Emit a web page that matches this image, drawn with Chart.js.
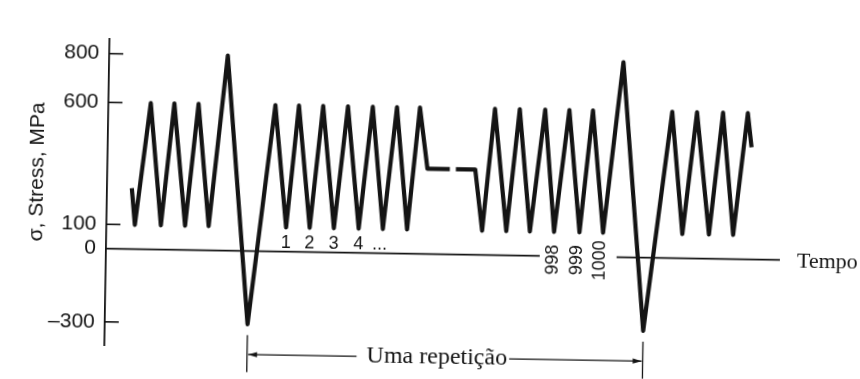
<!DOCTYPE html>
<html>
<head>
<meta charset="utf-8">
<script src="https://cdn.jsdelivr.net/npm/chart.js@4.4.1/dist/chart.umd.min.js"></script>
<style>
  html, body { margin: 0; padding: 0; background: #fff; overflow: hidden; }
  #wrap { width: 860px; height: 379px; position: relative; }
  canvas { position: absolute; left: 0; top: 0; transform: rotate(0.96deg); transform-origin: 106px 249px; }
</style>
</head>
<body>
<div id="wrap"><canvas id="c" width="860" height="379"></canvas></div>
<script>
// Stress history: turning points, time in arbitrary units, stress in MPa.
// A null stress breaks the trace (the omitted cycles of the block).
const times = [
  2.05, 2.35, 3.5, 4.5, 5.45, 6.5, 7.45, 8.45, 9.8, 11.8,
  13.8, 14.85, 15.75, 16.8, 17.75, 18.8, 19.8, 20.85, 21.85, 22.85, 23.85, 24.85, 25.75,
  26.45, 28.3, 28.55, 28.8, 30.4,
  31.05, 31.95, 33.05, 34.0, 35.0, 36.1, 37.0, 38.1, 39.1, 40.05, 41.05, 42.5, 44.5,
  46.6, 47.6, 48.65, 49.8, 50.8, 51.8, 52.85, 53.2
];
const stress = [
  250, 100, 600, 100, 600, 100, 600, 100, 800, -300,
  600, 100, 600, 100, 600, 100, 600, 100, 600, 100, 600, 100, 600,
  350, 350, null, 350, 350,
  100, 600, 100, 600, 100, 600, 100, 600, 100, 600, 100, 800, -300,
  600, 100, 600, 100, 600, 100, 600, 460
];
const stressTicks = [800, 600, 100, 0, -300];
const timeEnd = 55.7;

// Cycle counters written along the time axis
const cycleLabels = ['1', '2', '3', '4', '...'];
const cycleLabelTimes = [14.85, 16.8, 18.8, 20.85, 22.6];
const lastCycleLabels = ['998', '999', '1000'];
const lastCycleTimes = [36.95, 38.95, 40.85];
// The time axis is interrupted where the last counters sit
const axisGap = [35.85, 42.2];
// One repetition of the loading block, from one -300 MPa valley to the next
const repeatFrom = 11.8, repeatTo = 44.5;

const ink = '#141414';
const sans = '"Liberation Sans", Arial, Helvetica, sans-serif';
const serif = '"Liberation Serif", "Times New Roman", serif';

const historyPoints = times.map((t, i) => ({ x: t, y: stress[i] }));
const axisPoints = [
  { x: 0, y: 0 }, { x: axisGap[0], y: 0 },
  { x: (axisGap[0] + axisGap[1]) / 2, y: null },
  { x: axisGap[1], y: 0 }, { x: timeEnd, y: 0 }
];

const annotations = {
  id: 'annotations',
  afterDraw(chart) {
    const { ctx, chartArea, scales } = chart;
    const xs = scales.x, ys = scales.y;
    const y0 = ys.getPixelForValue(0);
    ctx.save();
    ctx.strokeStyle = ink;
    ctx.fillStyle = ink;

    // tick marks pointing into the plot
    ctx.lineWidth = 1.6;
    ys.ticks.forEach(tk => {
      if (tk.value === 0) return;
      const py = ys.getPixelForValue(tk.value);
      ctx.beginPath();
      ctx.moveTo(chartArea.left, py);
      ctx.lineTo(chartArea.left + 14, py);
      ctx.stroke();
    });

    // vertical axis title
    ctx.save();
    ctx.translate(36, 173);
    ctx.rotate(-Math.PI / 2);
    ctx.font = '21px ' + sans;
    ctx.textAlign = 'center';
    ctx.textBaseline = 'middle';
    ctx.fillText('\u03c3, Stress, MPa', 0, 0);
    ctx.restore();

    // cycle numbers 1, 2, 3, 4 ...
    ctx.font = '18px ' + sans;
    ctx.textAlign = 'center';
    ctx.textBaseline = 'alphabetic';
    cycleLabels.forEach((s, i) => {
      ctx.fillText(s, xs.getPixelForValue(cycleLabelTimes[i]), y0 - 4);
    });

    // cycle numbers 998, 999, 1000 (upright)
    lastCycleLabels.forEach((s, i) => {
      ctx.save();
      ctx.translate(xs.getPixelForValue(lastCycleTimes[i]), y0 + 3.5);
      ctx.rotate(-Math.PI / 2);
      ctx.font = '18px ' + sans;
      ctx.textAlign = 'center';
      ctx.textBaseline = 'middle';
      ctx.fillText(s, 0, 0);
      ctx.restore();
    });

    // time axis name
    ctx.font = '22px ' + serif;
    ctx.textAlign = 'left';
    ctx.textBaseline = 'alphabetic';
    ctx.fillText('Tempo', xs.getPixelForValue(timeEnd) + 17, y0 + 7);

    // dimension line for one repetition
    const xl = xs.getPixelForValue(repeatFrom);
    const xr = xs.getPixelForValue(repeatTo);
    const ya = y0 + 103.5;
    ctx.lineWidth = 1.3;
    [xl, xr].forEach(px => {
      ctx.beginPath();
      ctx.moveTo(px, y0 + 84);
      ctx.lineTo(px, y0 + 121);
      ctx.stroke();
    });
    ctx.font = '24px ' + serif;
    const label = 'Uma repeti\u00e7\u00e3o';
    const w = ctx.measureText(label).width;
    const cx = (xl + xr) / 2 - 8;
    ctx.textAlign = 'center';
    ctx.fillText(label, cx, y0 + 109);
    ctx.beginPath();
    ctx.moveTo(xl + 1, ya);
    ctx.lineTo(cx - w / 2 - 10, ya);
    ctx.moveTo(cx + w / 2 + 2, ya);
    ctx.lineTo(xr - 1, ya);
    ctx.stroke();
    ctx.beginPath();
    ctx.moveTo(xl + 1, ya);
    ctx.lineTo(xl + 10, ya - 2.6);
    ctx.lineTo(xl + 10, ya + 2.6);
    ctx.closePath();
    ctx.moveTo(xr - 1, ya);
    ctx.lineTo(xr - 10, ya - 2.6);
    ctx.lineTo(xr - 10, ya + 2.6);
    ctx.closePath();
    ctx.fill();

    ctx.restore();
  }
};

new Chart(document.getElementById('c'), {
  type: 'line',
  data: {
    datasets: [
      {
        data: axisPoints,
        borderColor: ink,
        borderWidth: 1.8,
        pointRadius: 0,
        spanGaps: false,
        clip: false
      },
      {
        data: historyPoints,
        borderColor: ink,
        borderWidth: 4.2,
        borderJoinStyle: 'round',
        borderCapStyle: 'butt',
        pointRadius: 0,
        tension: 0,
        spanGaps: false,
        clip: false
      }
    ]
  },
  options: {
    responsive: false,
    animation: false,
    devicePixelRatio: 1,
    layout: { padding: { left: 0, top: 39, right: 80, bottom: 34 } },
    plugins: { legend: { display: false }, tooltip: { enabled: false } },
    scales: {
      x: { type: 'linear', min: 0, max: timeEnd, display: false },
      y: {
        type: 'linear',
        min: -395,
        max: 860,
        afterBuildTicks(scale) { scale.ticks = stressTicks.map(v => ({ value: v })); },
        afterFit(scale) { scale.width = 106; },
        grid: { display: false, drawTicks: false },
        border: { display: true, color: ink, width: 1.8 },
        ticks: {
          padding: 10,
          color: ink,
          font: { family: sans, size: 21 },
          callback: v => (v < 0 ? '\u2013' + Math.abs(v) : String(v))
        },
        title: { display: false }
      }
    }
  },
  plugins: [annotations]
});
</script>
</body>
</html>
